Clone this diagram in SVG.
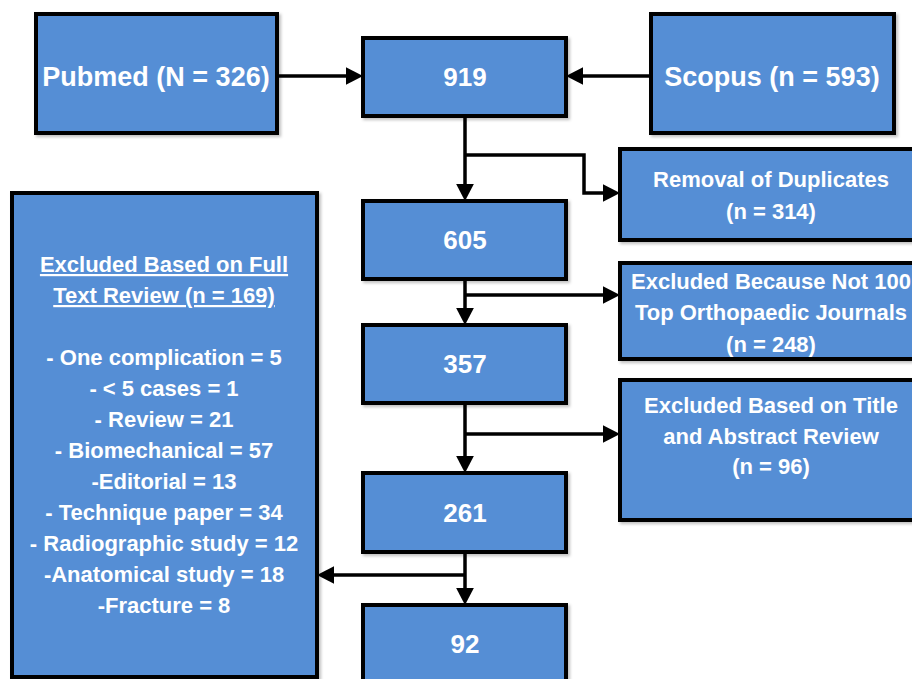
<svg xmlns="http://www.w3.org/2000/svg" width="912" height="679" viewBox="0 0 912 679">
<style>
.box{fill:#558ED5;stroke:#000;stroke-width:4;filter:url(#sh)}
.t{font-family:"Liberation Sans",Arial,sans-serif;font-weight:bold;fill:#fff;text-anchor:middle}
.src{font-size:27px}
.num{font-size:26px}
.sm{font-size:22px}
.u{text-decoration:underline}
.c{fill:none;stroke:#000;stroke-width:3.5}
.a{marker-end:url(#ah)}
</style>
<defs>
<marker id="ah" viewBox="0 0 10 10" refX="7.7" refY="5" markerWidth="5" markerHeight="5.2" orient="auto" markerUnits="strokeWidth" preserveAspectRatio="none">
<path d="M0,0 L10,5 L0,10 z" fill="#000"/>
</marker>
<filter id="sh" x="-5%" y="-5%" width="115%" height="115%">
<feDropShadow dx="2" dy="2" stdDeviation="1.5" flood-color="#000" flood-opacity="0.25"/>
</filter>
</defs>
<rect width="912" height="679" fill="#fff"/>
<g id="connectors">
<line class="c a" x1="277" y1="76" x2="359" y2="76"/>
<line class="c a" x1="651" y1="76" x2="570" y2="76"/>
<line class="c a" x1="465" y1="116" x2="465" y2="197"/>
<polyline class="c a" points="465,155 584,155 584,193 616,193"/>
<line class="c a" x1="465" y1="279" x2="465" y2="321"/>
<line class="c a" x1="465" y1="295" x2="616" y2="295"/>
<line class="c a" x1="465" y1="403" x2="465" y2="469"/>
<line class="c a" x1="465" y1="434" x2="616" y2="434"/>
<line class="c a" x1="465" y1="552" x2="465" y2="601"/>
<line class="c a" x1="465" y1="575" x2="321" y2="575"/>
</g>
<g id="pubmed">
<rect class="box" x="36" y="14" width="241" height="119"/>
<text class="t src" x="156" y="86">Pubmed (N = 326)</text>
</g>
<g id="n919">
<rect class="box" x="363" y="38" width="203" height="78"/>
<text class="t num" x="465" y="86">919</text>
</g>
<g id="scopus">
<rect class="box" x="651" y="14" width="243" height="119"/>
<text class="t src" x="772" y="86">Scopus (n = 593)</text>
</g>
<g id="removal">
<rect class="box" x="620" y="149" width="296" height="91"/>
<text class="t sm" x="771" y="187">Removal of Duplicates</text>
<text class="t sm" x="771" y="219">(n = 314)</text>
</g>
<g id="n605">
<rect class="box" x="363" y="201" width="203" height="78"/>
<text class="t num" x="465" y="249">605</text>
</g>
<g id="excl-journals">
<rect class="box" x="620" y="263" width="296" height="96"/>
<text class="t sm" x="771" y="289">Excluded Because Not 100</text>
<text class="t sm" x="771" y="320">Top Orthopaedic Journals</text>
<text class="t sm" x="771" y="352">(n = 248)</text>
</g>
<g id="n357">
<rect class="box" x="363" y="325" width="203" height="78"/>
<text class="t num" x="465" y="373">357</text>
</g>
<g id="excl-title">
<rect class="box" x="620" y="380" width="296" height="140"/>
<text class="t sm" x="771" y="413">Excluded Based on Title</text>
<text class="t sm" x="771" y="444">and Abstract Review</text>
<text class="t sm" x="771" y="474">(n = 96)</text>
</g>
<g id="n261">
<rect class="box" x="363" y="473" width="203" height="79"/>
<text class="t num" x="465" y="522">261</text>
</g>
<g id="n92">
<rect class="box" x="363" y="605" width="203" height="80"/>
<text class="t num" x="465" y="653">92</text>
</g>
<g id="excl-fulltext">
<rect class="box" x="12" y="193" width="305" height="484"/>
<text class="t sm u" x="164" y="272">Excluded Based on Full</text>
<text class="t sm u" x="164" y="303">Text Review (n = 169)</text>
<text class="t sm" x="164" y="365">- One complication = 5</text>
<text class="t sm" x="164" y="396">- &lt; 5 cases = 1</text>
<text class="t sm" x="164" y="427">- Review = 21</text>
<text class="t sm" x="164" y="458">- Biomechanical = 57</text>
<text class="t sm" x="164" y="489">-Editorial = 13</text>
<text class="t sm" x="164" y="520">- Technique paper = 34</text>
<text class="t sm" x="164" y="551">- Radiographic study = 12</text>
<text class="t sm" x="164" y="582">-Anatomical study = 18</text>
<text class="t sm" x="164" y="613">-Fracture = 8</text>
</g>
</svg>
